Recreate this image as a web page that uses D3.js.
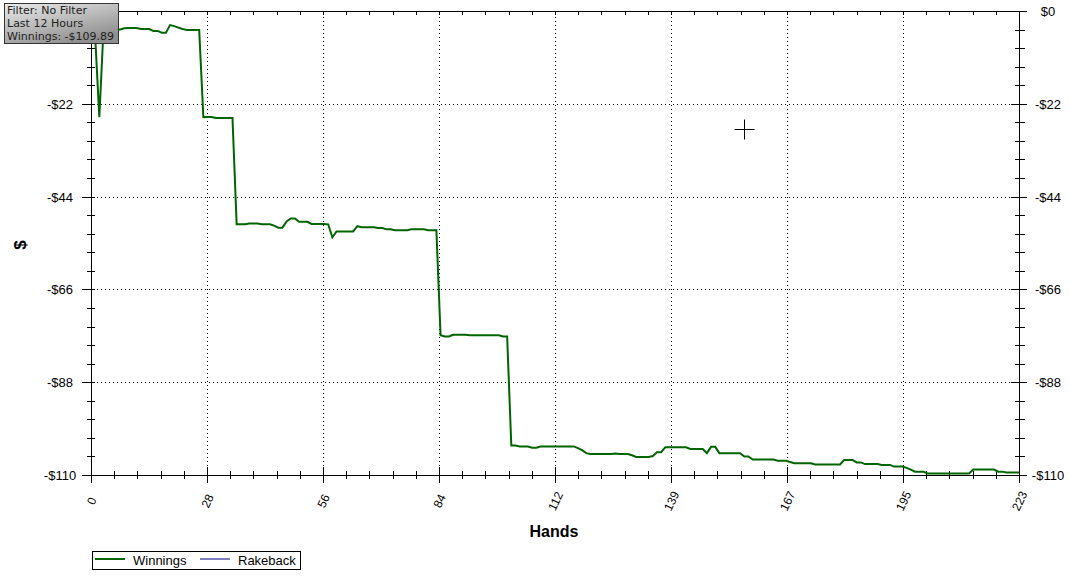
<!DOCTYPE html>
<html><head><meta charset="utf-8">
<script src="https://cdn.jsdelivr.net/npm/d3@7"></script>
<style>body{margin:0;background:#fff} svg{display:block}</style>
</head><body><svg id="c" width="1070" height="579"></svg>
<script>
// cumulative winnings per hand (hand 0..223)
const winnings = [
  0, -6, -25.3, -4.4, -4.4, -4.4, -4.4, -4.4, -4.1, -4.05,
  -4.05, -4.05, -4.3, -4.3, -4.3, -4.75, -4.75, -5.15, -5.15, -3.35,
  -3.6, -3.95, -4.3, -4.5, -4.5, -4.5, -4.5, -25.3, -25.25, -25.25,
  -25.5, -25.5, -25.5, -25.5, -25.5, -50.8, -50.8, -50.8, -50.6, -50.6,
  -50.6, -50.8, -50.8, -50.8, -51.1, -51.6, -51.6, -50.1, -49.4, -49.4,
  -50.2, -50.2, -50.2, -50.7, -50.7, -50.7, -50.7, -50.8, -53.9, -52.5,
  -52.5, -52.5, -52.5, -52.5, -51.25, -51.5, -51.5, -51.5, -51.5, -51.7,
  -51.7, -52.0, -52.0, -52.2, -52.2, -52.2, -52.2, -52.0, -52.0, -52.0,
  -52.0, -52.2, -52.2, -52.2, -77.2, -77.5, -77.5, -77.1, -77.1, -77.1,
  -77.1, -77.2, -77.2, -77.2, -77.2, -77.2, -77.2, -77.2, -77.2, -77.5,
  -77.5, -103.5, -103.5, -103.7, -103.7, -103.7, -104.0, -104.0, -103.7, -103.7,
  -103.7, -103.7, -103.7, -103.7, -103.7, -103.7, -103.7, -104.1, -104.6, -105.3,
  -105.5, -105.5, -105.5, -105.5, -105.5, -105.5, -105.4, -105.5, -105.5, -105.5,
  -105.8, -106.2, -106.2, -106.2, -106.2, -106.0, -105.1, -105.1, -103.9, -103.9,
  -103.9, -103.9, -103.9, -103.9, -104.3, -104.3, -104.3, -104.3, -105.3, -103.8,
  -103.8, -105.3, -105.3, -105.3, -105.3, -105.3, -105.3, -106.1, -106.1, -106.8,
  -106.8, -106.8, -106.8, -106.8, -106.8, -107.1, -107.1, -107.1, -107.4, -107.7,
  -107.7, -107.7, -107.7, -107.7, -108.0, -108.0, -108.0, -108.0, -108.0, -108.0,
  -108.0, -106.9, -106.9, -106.9, -107.5, -107.5, -107.9, -107.9, -107.9, -107.9,
  -108.1, -108.1, -108.1, -108.5, -108.5, -108.5, -108.8, -109.2, -109.7, -109.7,
  -109.7, -110.15, -110.15, -110.15, -110.15, -110.15, -110.15, -110.15, -110.15, -110.15,
  -110.15, -110.15, -109.2, -109.2, -109.2, -109.2, -109.2, -109.2, -109.7, -109.7,
  -109.89, -109.89, -109.89, -109.89
];
const hands = d3.range(winnings.length);
const xTickLabels = ["0", "28", "56", "84", "112", "139", "167", "195", "223"];
const yTickLabels = ["$0", "-$22", "-$44", "-$66", "-$88", "-$110"];
const infoLines = ["Filter: No Filter", "Last 12 Hours", "Winnings: -$109.89"];
const legendNames = ["Winnings", "Rakeback"];
const legendColors = ["#006400", "#000080"];
const cursorPos = [{hand: 157, value: -28}];
const xMax = 223, yMin = -110.5;

const svg = d3.select("#c");
const x = d3.scaleLinear().domain([0, xMax]).range([91, 1019]);
const y = d3.scaleLinear().domain([yMin, 0]).range([475, 11]);
const xr = x.copy().interpolate(d3.interpolateRound);
const yr = y.copy().interpolate(d3.interpolateRound);

const xMajor = d3.range(9).map(i => i * xMax / 8);
const xMinor = d3.range(41).map(i => i * xMax / 40);
const yMajor = d3.range(6).map(i => i * yMin / 5);
const yMinor = d3.range(26).map(i => i * yMin / 25);

const tickFont = "'Liberation Sans', Arial, sans-serif";

// gridlines (dotted)
const grid = svg.append("g").attr("stroke", "#000").attr("stroke-width", 1).attr("stroke-dasharray", "1,3");
grid.selectAll("line.v").data(xMajor.slice(1, 8)).join("line")
  .attr("x1", d => xr(d) + 0.5).attr("x2", d => xr(d) + 0.5)
  .attr("y1", y(0) + 2).attr("y2", y(yMin));
grid.selectAll("line.h").data(yMajor.slice(1, 5)).join("line")
  .attr("y1", d => yr(d) + 0.5).attr("y2", d => yr(d) + 0.5)
  .attr("x1", x(0) + 2).attr("x2", x(xMax));

// top axis (minor ticks inward)
const gTop = svg.append("g").attr("transform", `translate(0,${y(0)})`)
  .call(d3.axisTop(xr).tickValues(xMinor).tickSizeOuter(0).tickFormat(""));
gTop.selectAll(".tick line").attr("y1", 0).attr("y2", 4);

// bottom axis minor
const gBotMin = svg.append("g").attr("transform", `translate(0,${y(yMin)})`)
  .call(d3.axisBottom(xr).tickValues(xMinor).tickSizeOuter(0).tickFormat(""));
gBotMin.selectAll(".tick line").attr("y1", -4).attr("y2", 4);
// bottom axis major with labels
const gBot = svg.append("g").attr("transform", `translate(0,${y(yMin)})`)
  .call(d3.axisBottom(xr).tickValues(xMajor).tickSizeOuter(0).tickFormat((d, i) => xTickLabels[i]));
gBot.select(".domain").remove();
gBot.selectAll(".tick line").attr("y1", -8).attr("y2", 8);
gBot.selectAll(".tick text")
  .attr("y", 0).attr("dy", "0.35em")
  .attr("transform", "translate(0,26) rotate(-65)")
  .attr("text-anchor", "middle")
  .style("font-family", tickFont).style("font-size", "12px").attr("fill", "#000");

// left axis
const gLeftMin = svg.append("g").attr("transform", `translate(${x(0)},0)`)
  .call(d3.axisLeft(yr).tickValues(yMinor).tickSizeOuter(0).tickFormat(""));
gLeftMin.selectAll(".tick line").attr("x1", -4).attr("x2", 4);
const gLeft = svg.append("g").attr("transform", `translate(${x(0)},0)`)
  .call(d3.axisLeft(yr).tickValues(yMajor).tickSizeOuter(0).tickFormat((d, i) => yTickLabels[i]));
gLeft.select(".domain").remove();
gLeft.selectAll(".tick line").attr("x1", -9).attr("x2", 4);
gLeft.selectAll(".tick text").attr("x", 60 - x(0)).attr("text-anchor", "middle")
  .style("font-family", tickFont).style("font-size", "13px").attr("fill", "#000");

// right axis
const gRightMin = svg.append("g").attr("transform", `translate(${x(xMax)},0)`)
  .call(d3.axisRight(yr).tickValues(yMinor).tickSizeOuter(0).tickFormat(""));
gRightMin.selectAll(".tick line").attr("x1", -4).attr("x2", 6);
const gRight = svg.append("g").attr("transform", `translate(${x(xMax)},0)`)
  .call(d3.axisRight(yr).tickValues(yMajor).tickSizeOuter(0).tickFormat((d, i) => yTickLabels[i]));
gRight.select(".domain").remove();
gRight.selectAll(".tick line").attr("x1", -8).attr("x2", 8);
gRight.selectAll(".tick text").attr("x", 1048 - x(xMax)).attr("text-anchor", "middle")
  .style("font-family", tickFont).style("font-size", "13px").attr("fill", "#000");

svg.selectAll(".domain, .tick line").attr("stroke", "#000");

// winnings line
svg.append("path")
  .datum(winnings)
  .attr("fill", "none")
  .attr("stroke", legendColors[0])
  .attr("stroke-width", 2)
  .attr("d", d3.line().x((d, i) => x(hands[i])).y(d => y(d)));

// axis titles
svg.append("text").attr("x", 554).attr("y", 537).attr("text-anchor", "middle")
  .style("font-family", tickFont).style("font-size", "16px").style("font-weight", "bold").text("Hands");
svg.append("text").attr("transform", "translate(26,245) rotate(-90)").attr("text-anchor", "middle")
  .style("font-family", tickFont).style("font-size", "17px").style("font-weight", "bold").text("$");

// cursor crosshair
const cur = svg.append("g").attr("stroke", "#000").attr("stroke-width", 1);
cursorPos.forEach(c => {
  const cx = Math.round(x(c.hand)) + 0.5, cy = Math.round(y(c.value)) + 0.5;
  cur.append("line").attr("x1", cx - 10).attr("x2", cx + 10).attr("y1", cy).attr("y2", cy);
  cur.append("line").attr("x1", cx).attr("x2", cx).attr("y1", cy - 10).attr("y2", cy + 10);
});

// info box
const defs = svg.append("defs");
const grad = defs.append("linearGradient").attr("id", "boxg").attr("x1", 0).attr("y1", 0).attr("x2", 0.6).attr("y2", 1);
grad.append("stop").attr("offset", "0%").attr("stop-color", "#ececec");
grad.append("stop").attr("offset", "100%").attr("stop-color", "#8e8e8e");
svg.append("rect").attr("x", 4.5).attr("y", 3.5).attr("width", 114).attr("height", 40)
  .attr("fill", "url(#boxg)").attr("stroke", "#333");
svg.append("g").selectAll("text").data(infoLines).join("text")
  .attr("x", 7).attr("y", (d, i) => 13.5 + i * 13)
  .style("font-family", "'DejaVu Sans', Verdana, sans-serif").style("font-size", "11px")
  .attr("fill", "#222").text(d => d);

// legend
const lg = svg.append("g");
lg.append("rect").attr("x", 92.5).attr("y", 551.5).attr("width", 208).attr("height", 18)
  .attr("fill", "#fff").attr("stroke", "#000");
const lgX = [95, 200];
legendNames.forEach((n, i) => {
  lg.append("line").attr("x1", lgX[i]).attr("x2", lgX[i] + 30).attr("y1", 559).attr("y2", 559)
    .attr("stroke", legendColors[i]).attr("stroke-width", i === 0 ? 2 : 1);
  lg.append("text").attr("x", lgX[i] + 38).attr("y", 564.5)
    .style("font-family", tickFont).style("font-size", "13px").text(n);
});
</script></body></html>
